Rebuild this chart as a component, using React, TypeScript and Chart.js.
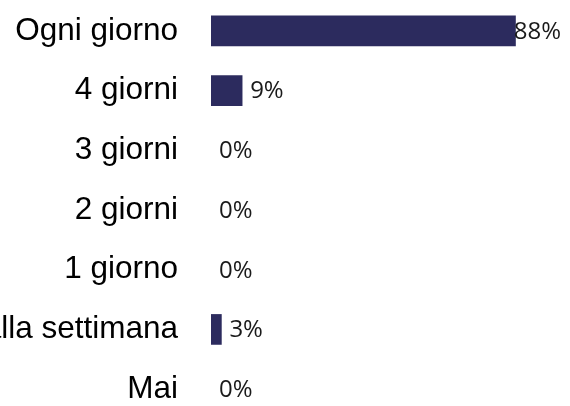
import React, { useEffect, useRef } from "react";
import { Chart, registerables } from "chart.js";

Chart.register(...registerables);

const categories = [
  "Ogni giorno",
  "4 giorni",
  "3 giorni",
  "2 giorni",
  "1 giorno",
  "Meno di 1 giorno alla settimana",
  "Mai",
];
const values = [88, 9, 0, 0, 0, 3, 0];
const valueLabels = ["88%", "9%", "0%", "0%", "0%", "3%", "0%"];

const BAR_COLOR = "#2c2b5e";

const valueLabelPlugin = {
  id: "valueLabels",
  afterDatasetsDraw(chart: any) {
    const ctx = chart.ctx;
    const meta = chart.getDatasetMeta(0);
    ctx.save();
    ctx.font = "24px 'Open Sans'";
    ctx.fillStyle = "#1a1a1a";
    ctx.textBaseline = "middle";
    ctx.textAlign = "left";
    meta.data.forEach((bar: any, i: number) => {
      const text = valueLabels[i];
      const w = ctx.measureText(text).width;
      let x = bar.x + 8;
      const limit = chart.width - 9;
      if (x + w > limit) x = limit - w;
      ctx.fillText(text, x, bar.y + 1);
    });
    ctx.restore();
  },
};

export default function App() {
  const ref = useRef<HTMLCanvasElement | null>(null);

  useEffect(() => {
    if (!ref.current) return;
    const chart = new Chart(ref.current, {
      type: "bar",
      data: {
        labels: categories,
        datasets: [
          {
            data: values,
            backgroundColor: (c: any) =>
              values[c.dataIndex] > 0 ? BAR_COLOR : "rgba(0,0,0,0)",
            borderWidth: 0,
            barThickness: 30,
          },
        ],
      },
      options: {
        indexAxis: "y",
        animation: false,
        responsive: false,
        maintainAspectRatio: false,
        layout: { padding: { top: 1, bottom: 1, left: 0, right: 13 } },
        plugins: {
          legend: { display: false },
          tooltip: { enabled: false },
        },
        scales: {
          x: {
            display: false,
            min: 0,
            max: 100,
          },
          y: {
            grid: { display: false, drawTicks: false },
            border: { display: false },
            ticks: {
              padding: 33,
              color: "#000000",
              font: { family: "'Liberation Sans', Arial, sans-serif", size: 31.5 },
            },
            afterFit: (s: any) => {
              s.width = 211;
              s.paddingTop = 0;
              s.paddingBottom = 0;
            },
          },
        },
      },
      plugins: [valueLabelPlugin],
    });
    return () => chart.destroy();
  }, []);

  return (
    <div
      style={{
        position: "fixed",
        left: 0,
        top: 0,
        width: 570,
        height: 406,
        overflow: "hidden",
        background: "#ffffff",
      }}
    >
      <canvas ref={ref} width={570} height={420} style={{ display: "block" }} />
    </div>
  );
}
